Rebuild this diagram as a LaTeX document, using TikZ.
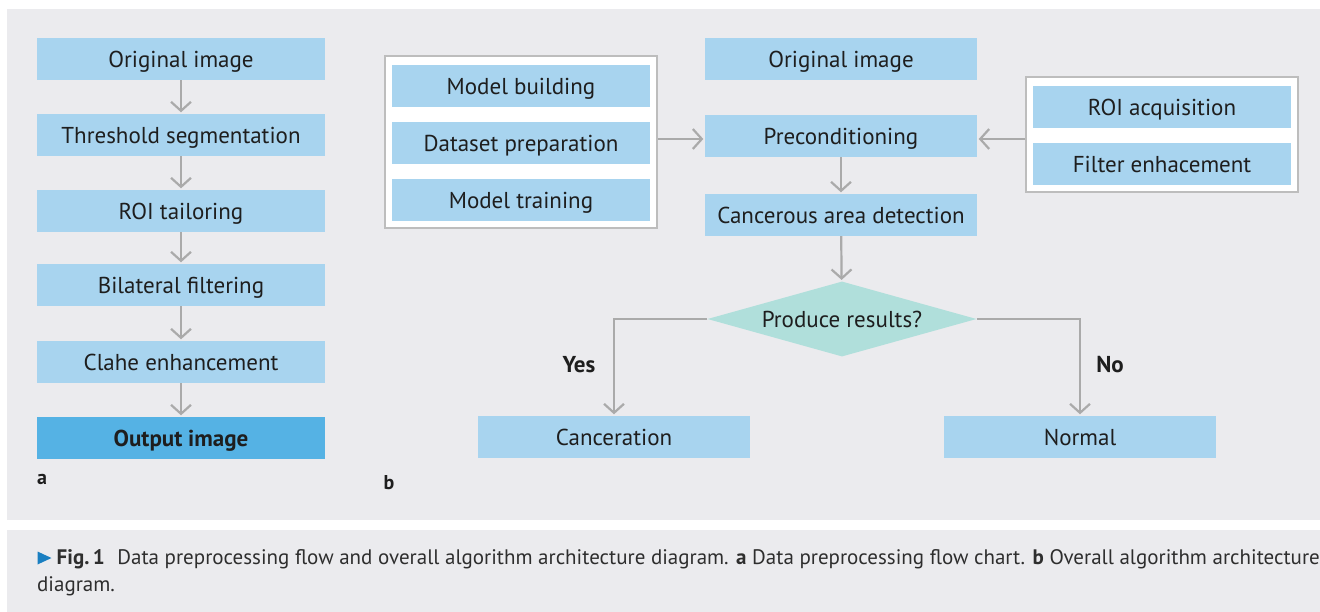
\documentclass[tikz,border=0pt]{standalone}
\usepackage{fontspec}
\setmainfont{PT Sans}
\usetikzlibrary{shapes.geometric,arrows.meta}

\definecolor{panel}{HTML}{EBEBEE}
\definecolor{boxblue}{HTML}{A8D4EF}
\definecolor{outblue}{HTML}{55B2E4}
\definecolor{decide}{HTML}{B0DFDB}
\definecolor{linegray}{HTML}{AAAAAA}
\definecolor{ink}{HTML}{1E1E1E}
\definecolor{capink}{HTML}{2E2E2E}
\definecolor{framegray}{HTML}{BDBDBD}
\definecolor{capblue}{HTML}{1A7FC1}

\tikzset{
  stepbox/.style={fill=boxblue, draw=none, minimum width=288pt, minimum height=42pt,
    inner sep=0pt, text height=19pt, text depth=2pt, text=ink,
    font=\fontsize{23}{26}\selectfont},
  widebox/.style={stepbox, minimum width=272pt},
  groupbox/.style={stepbox, minimum width=258pt},
  outbox/.style={stepbox, fill=outblue, font=\fontsize{23}{26}\selectfont\bfseries},
  groupframe/.style={draw=framegray, fill=white, line width=1.2pt, inner sep=0pt},
  decision/.style={diamond, fill=decide, inner sep=0pt, aspect=3.59,
    text height=18pt, text depth=2pt,
    minimum width=269pt, minimum height=75pt, text=ink, font=\fontsize{23}{26}\selectfont},
  flow/.style={draw=linegray, line width=2.2pt,
    -{Straight Barb[length=9pt, width=20pt]}, shorten >=1.5pt},
  tag/.style={inner sep=0pt, text=ink, font=\fontsize{23}{26}\selectfont\bfseries},
  panelmark/.style={inner sep=0pt, text=ink, font=\fontsize{20}{22}\selectfont\bfseries},
  captext/.style={inner sep=0pt, text=capink, font=\fontsize{21}{24}\selectfont, anchor=base west},
}

\begin{document}
\begin{tikzpicture}[x=1pt, y=-1pt]
  \useasboundingbox (0,0) rectangle (1320,612);
  \clip (0,0) rectangle (1320,612);
  \fill[white] (0,0) rectangle (1320,612);
  % figure panel and caption panel
  \fill[panel] (7,9) rectangle (1330,520);
  \fill[panel] (7,530) rectangle (1330,620);

  % (a) preprocessing chain
  \node[stepbox] (a1) at (181,59)  {Original image};
  \node[stepbox] (a2) at (181,135) {Threshold segmentation};
  \node[stepbox] (a3) at (181,211) {ROI tailoring};
  \node[stepbox] (a4) at (181,285) {Bilateral filtering};
  \node[stepbox] (a5) at (181,362) {Clahe enhancement};
  \node[outbox]  (a6) at (181,438) {Output image};
  \draw[flow] (a1) -- (a2);
  \draw[flow] (a2) -- (a3);
  \draw[flow] (a3) -- (a4);
  \draw[flow] (a4) -- (a5);
  \draw[flow] (a5) -- (a6);
  \node[panelmark] (la) at (42,479) {a};

  % (b) model group
  \node[groupframe, minimum width=272pt, minimum height=172pt] (mg) at (521,142) {};
  \node[groupbox] (m1) at (521,86)  {Model building};
  \node[groupbox] (m2) at (521,143) {Dataset preparation};
  \node[groupbox] (m3) at (521,200) {Model training};

  % (b) main column
  \node[widebox] (b1) at (841,59)  {Original image};
  \node[widebox] (b2) at (841,136) {Preconditioning};
  \node[widebox] (b3) at (841,215) {Cancerous area detection};

  % (b) preprocessing group
  \node[groupframe, minimum width=272pt, minimum height=115pt] (rg) at (1162,134.5) {};
  \node[groupbox] (r1) at (1162,107) {ROI acquisition};
  \node[groupbox] (r2) at (1162,164) {Filter enhacement};

  \draw[flow] (mg.east |- 0,139) -- (b2.west |- 0,139);
  \draw[flow] (rg.west |- 0,139) -- (b2.east |- 0,139);
  \draw[flow] (b2) -- (b3);

  % decision and outcomes
  \node[decision] (d) at (842,319) {Produce results?};
  \draw[flow] (b3) -- (d);
  \node[widebox] (yes) at (614,437)  {Canceration};
  \node[widebox] (no)  at (1080,437) {Normal};
  \draw[flow] (d.west) -| (yes.north);
  \draw[flow] (d.east) -| (no.north);
  \node[tag] (ly) at (579,365) {Yes};
  \node[tag] (ln) at (1110,365) {No};
  \node[panelmark] (lb) at (389,483) {b};

  % caption
  \fill[capblue] (37.5,551.5) -- (37.5,564.5) -- (51.5,558) -- cycle;
  \node[captext] (c1) at (56.5,564) {\textbf{Fig.\,1}\hspace{0.6em}Data preprocessing flow and overall algorithm architecture diagram. \textbf{a} Data preprocessing flow chart. \textbf{b} Overall algorithm architecture};
  \node[captext] (c2) at (37,591) {diagram.};
\end{tikzpicture}
\end{document}
